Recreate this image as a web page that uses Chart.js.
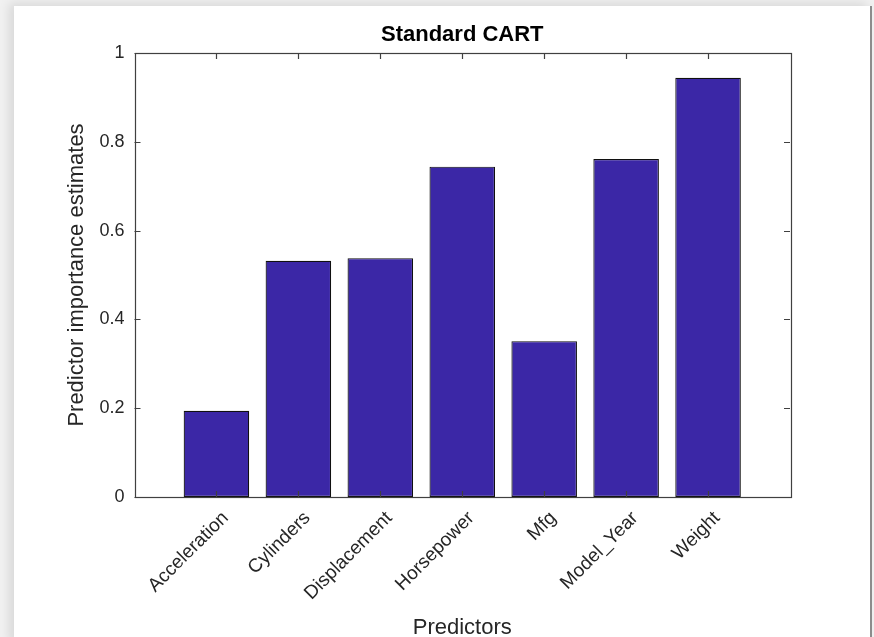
<!DOCTYPE html>
<html>
<head>
<meta charset="utf-8">
<script src="https://cdn.jsdelivr.net/npm/chart.js@4.4.1/dist/chart.umd.min.js"></script>
<style>
  html, body { margin: 0; padding: 0; width: 874px; height: 637px; overflow: hidden; background: #f1f1f1; }
  #panel { position: absolute; left: 14px; top: 6px; width: 856px; height: 640px; background: #fff;
           box-shadow: -5px -3px 10px rgba(0,0,0,0.10); border-right: 2px solid #8c8c8c; }
  #c { position: absolute; left: 0; top: 0; }
</style>
</head>
<body>
<div id="panel"></div>
<canvas id="c" width="874" height="637"></canvas>
<script>
// Predictor importance from a standard CART regression tree
const categories = ['Acceleration', 'Cylinders', 'Displacement', 'Horsepower', 'Mfg', 'Model_Year', 'Weight'];
const importance = [0.194, 0.532, 0.538, 0.744, 0.351, 0.761, 0.944];
const yTicks = [0, 0.2, 0.4, 0.6, 0.8, 1];
const chartTitle = 'Standard CART';
const xTitle = 'Predictors';
const yTitle = 'Predictor importance estimates';

const FONT = "'Liberation Sans', Arial, Helvetica, sans-serif";
const AXIS_COLOR = '#404040';
const TEXT_COLOR = '#262626';
const TICK_LEN = 6;

// Boxed axes with inward ticks on all four sides, plus the centred title
const boxAxes = {
  id: 'boxAxes',
  afterDatasetsDraw(chart) {
    const { ctx, chartArea: a, scales: { x, y } } = chart;
    ctx.save();
    ctx.strokeStyle = AXIS_COLOR;
    ctx.lineWidth = 1.2;
    ctx.beginPath();
    x.ticks.forEach(t => {
      const px = Math.round(x.getPixelForValue(t.value)) + 0.5;
      ctx.moveTo(px, a.bottom); ctx.lineTo(px, a.bottom - TICK_LEN);
      ctx.moveTo(px, a.top); ctx.lineTo(px, a.top + TICK_LEN);
    });
    y.ticks.forEach(t => {
      const py = Math.round(y.getPixelForValue(t.value)) + 0.5;
      ctx.moveTo(a.left, py); ctx.lineTo(a.left + TICK_LEN, py);
      ctx.moveTo(a.right, py); ctx.lineTo(a.right - TICK_LEN, py);
    });
    ctx.stroke();
    ctx.strokeRect(Math.round(a.left) + 0.5, Math.round(a.top) + 0.5,
                   Math.round(a.right - a.left), Math.round(a.bottom - a.top));
    ctx.fillStyle = '#000';
    ctx.font = "bold 22px " + FONT;
    ctx.textAlign = 'center';
    ctx.textBaseline = 'middle';
    ctx.fillText(chartTitle, (a.left + a.right) / 2, 35);
    ctx.restore();
  }
};

new Chart(document.getElementById('c'), {
  type: 'bar',
  data: {
    datasets: [{
      data: categories.map((c, i) => ({ x: i + 1, y: importance[i] })),
      backgroundColor: '#3b27a6',
      borderColor: '#101010',
      borderWidth: 1.2,
      borderSkipped: false,
      categoryPercentage: 1,
      barPercentage: 0.8
    }]
  },
  options: {
    responsive: false,
    animation: false,
    devicePixelRatio: 1,
    layout: { padding: { top: 53, right: 84, bottom: 0, left: 0 } },
    plugins: { legend: { display: false }, tooltip: { enabled: false } },
    scales: {
      x: {
        type: 'linear',
        offset: false,
        min: 0,
        max: 8,
        afterBuildTicks: s => { s.ticks = categories.map((c, i) => ({ value: i + 1 })); },
        afterFit: s => { s.height = 140; },
        grid: { display: false, drawTicks: false },
        border: { display: false },
        ticks: {
          autoSkip: false,
          minRotation: 45,
          maxRotation: 45,
          padding: 10,
          labelOffset: 9,
          color: TEXT_COLOR,
          font: { family: FONT, size: 19 },
          callback: v => categories[v - 1]
        },
        title: {
          display: true,
          text: xTitle,
          color: TEXT_COLOR,
          font: { family: FONT, size: 22, lineHeight: 1 },
          padding: { top: 0, bottom: -2 }
        }
      },
      y: {
        min: 0,
        max: 1,
        afterBuildTicks: s => { s.ticks = yTicks.map(v => ({ value: v })); },
        afterFit: s => { s.width = 134.5; },
        grid: { display: false, drawTicks: false },
        border: { display: false },
        ticks: {
          padding: 10,
          color: TEXT_COLOR,
          font: { family: FONT, size: 18 },
          callback: v => String(v)
        },
        title: {
          display: true,
          text: yTitle,
          color: TEXT_COLOR,
          font: { family: FONT, size: 22, lineHeight: 1 },
          padding: { top: 66, bottom: 0 }
        }
      }
    }
  },
  plugins: [boxAxes]
});
</script>
</body>
</html>
